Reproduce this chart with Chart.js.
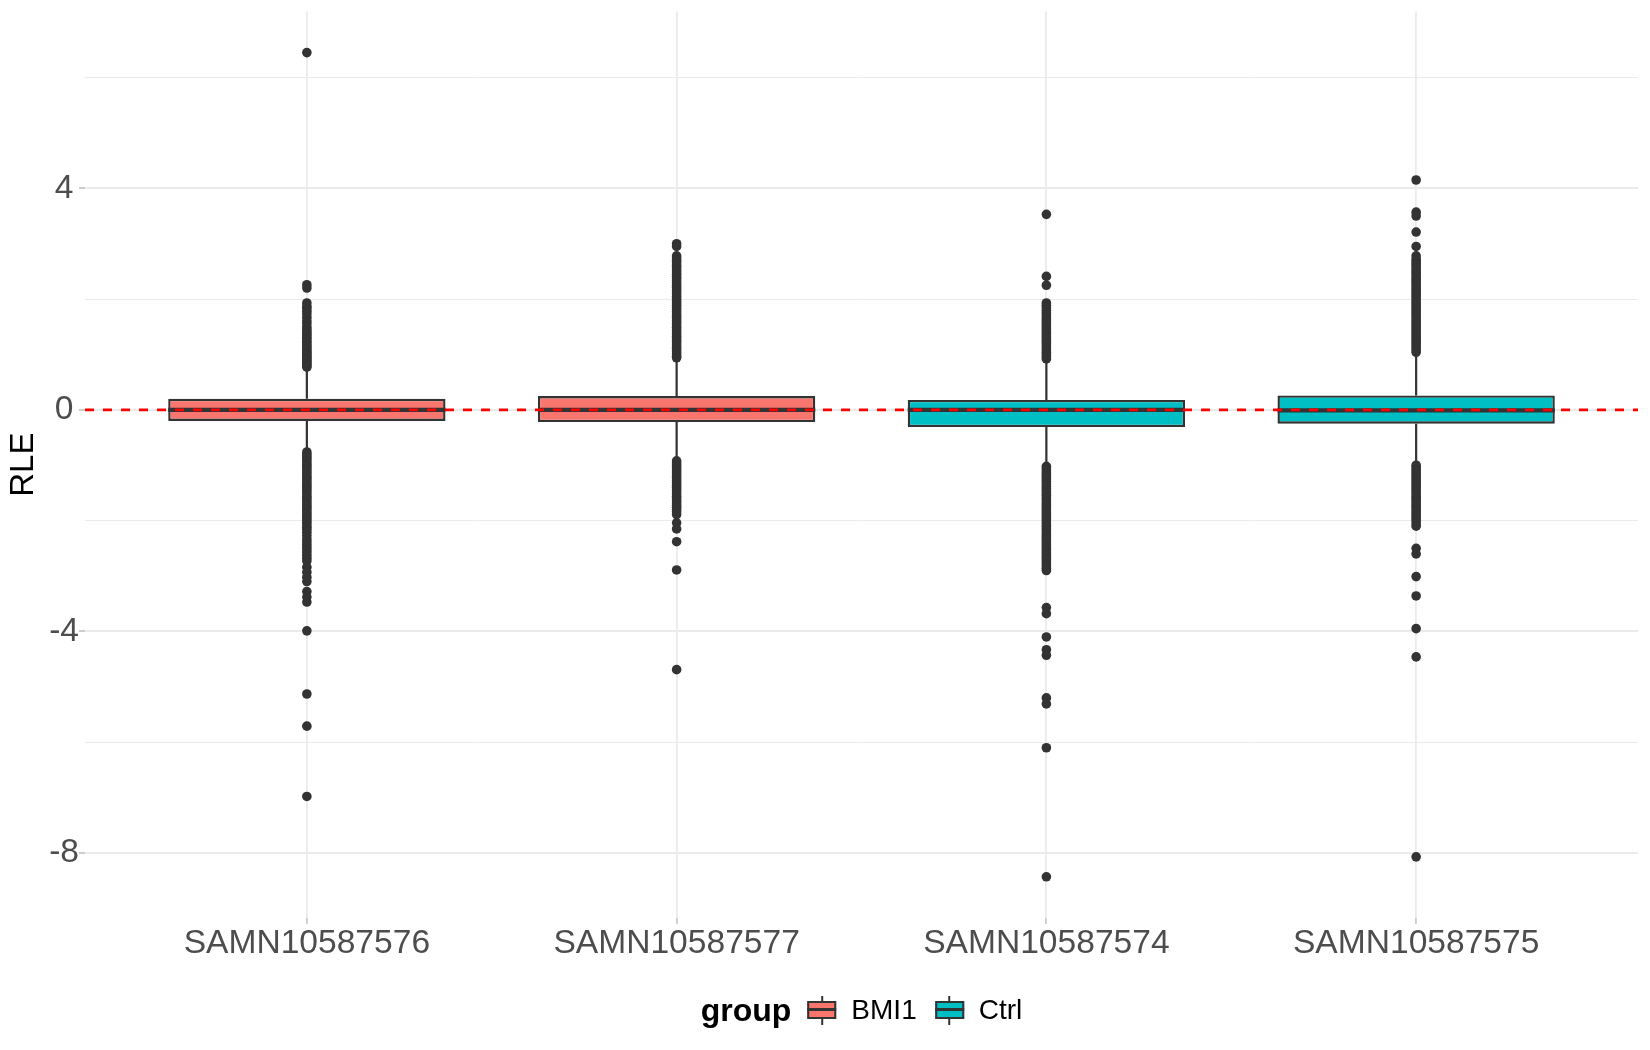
<!DOCTYPE html>
<html><head><meta charset="utf-8">
<script src="https://cdn.jsdelivr.net/npm/chart.js@4.4.0/dist/chart.umd.min.js"></script>
<style>
html,body{margin:0;padding:0;background:#fff;}
#wrap{position:relative;width:1650px;height:1050px;overflow:hidden;}
#c{position:absolute;left:0;top:0;}
#legend{position:absolute;left:861.5px;top:1010px;transform:translate(-50%,-50%);display:flex;align-items:center;font-family:'Liberation Sans',Arial,sans-serif;white-space:nowrap;color:#000;}
#legend .title{font-weight:bold;font-size:32px;line-height:1;}
#legend .lab{font-size:28px;line-height:1;}
.key{position:relative;width:29px;height:29px;}
.key .wh{position:absolute;left:13.5px;top:0;width:2px;height:29px;background:#333;}
.key .bx{position:absolute;left:0;top:5px;width:29px;height:18px;box-sizing:border-box;border:2px solid #333;}
.key .md{position:absolute;left:0;top:12.5px;width:29px;height:3px;background:#333;}
</style></head>
<body><div id="wrap"><canvas id="c" width="1650" height="1050"></canvas><div id="legend"></div></div>
<script>
// ---- data ----
const categories = ['SAMN10587576','SAMN10587577','SAMN10587574','SAMN10587575'];
const groups = ['BMI1','BMI1','Ctrl','Ctrl'];
const groupNames = ['BMI1','Ctrl'];
const groupColors = ['#F8766D','#00BFC4'];
const q1 = [-0.20,-0.22,-0.31,-0.25];
const medians = [0.00,0.00,0.00,-0.01];
const q3 = [0.20,0.25,0.18,0.26];
const whiskerLow = [-0.72,-0.88,-0.98,-0.96];
const whiskerHigh = [0.72,0.92,0.88,1.00];
const outliers576 = [6.45,2.26,2.20,1.93,1.87,1.83,1.78,1.73,1.67,1.61,1.56,1.50,1.46,1.42,1.38,1.35,1.31,1.28,1.24,1.21,1.17,1.14,1.11,1.07,1.04,1.01,0.98,0.95,0.92,0.89,0.86,0.83,0.80,0.77,
  -0.76,-0.80,-0.84,-0.88,-0.92,-0.96,-1.00,-1.04,-1.08,-1.12,-1.16,-1.20,-1.24,-1.28,-1.32,-1.36,-1.40,-1.44,-1.48,-1.52,-1.56,-1.60,-1.64,-1.68,-1.72,-1.76,-1.80,-1.84,-1.88,-1.92,-1.96,-2.00,-2.04,-2.08,-2.12,-2.16,-2.21,-2.27,-2.33,-2.38,-2.43,-2.48,-2.53,-2.58,-2.63,-2.68,-2.73,-2.84,-2.93,-3.02,-3.10,-3.28,-3.38,-3.47,-3.99,-5.13,-5.71,-6.98];
const outliers577 = [3.00,2.95,2.78,2.74,2.70,2.66,2.61,2.57,2.53,2.49,2.45,2.41,2.37,2.33,2.29,2.25,2.21,2.17,2.13,2.09,2.05,2.01,1.97,1.93,1.89,1.85,1.81,1.77,1.73,1.69,1.65,1.61,1.57,1.53,1.49,1.45,1.41,1.37,1.33,1.29,1.25,1.21,1.17,1.13,1.09,1.05,1.01,0.97,0.94,
  -0.92,-0.96,-1.00,-1.04,-1.08,-1.12,-1.16,-1.20,-1.24,-1.28,-1.32,-1.36,-1.40,-1.44,-1.48,-1.52,-1.56,-1.60,-1.64,-1.68,-1.72,-1.76,-1.80,-1.84,-1.89,-2.04,-2.15,-2.38,-2.89,-4.69];
const outliers574 = [3.53,2.41,2.25,1.93,1.89,1.85,1.80,1.76,1.72,1.68,1.64,1.60,1.56,1.52,1.48,1.44,1.40,1.36,1.32,1.28,1.24,1.20,1.16,1.12,1.08,1.04,1.00,0.96,0.92,
  -1.02,-1.06,-1.10,-1.14,-1.18,-1.22,-1.26,-1.30,-1.34,-1.38,-1.42,-1.46,-1.50,-1.54,-1.58,-1.62,-1.66,-1.70,-1.74,-1.78,-1.82,-1.86,-1.90,-1.94,-1.98,-2.02,-2.06,-2.10,-2.14,-2.18,-2.22,-2.26,-2.30,-2.34,-2.38,-2.42,-2.46,-2.50,-2.54,-2.58,-2.62,-2.66,-2.70,-2.74,-2.78,-2.82,-2.86,-2.90,
  -3.57,-3.68,-4.10,-4.33,-4.43,-5.20,-5.31,-6.10,-8.43];
const outliers575 = [4.15,3.57,3.50,3.21,2.95,2.78,2.72,2.68,2.64,2.60,2.56,2.52,2.48,2.44,2.40,2.36,2.32,2.28,2.24,2.20,2.16,2.12,2.08,2.04,2.00,1.96,1.92,1.88,1.84,1.80,1.76,1.72,1.68,1.64,1.60,1.56,1.52,1.48,1.44,1.40,1.36,1.32,1.28,1.24,1.20,1.16,1.12,1.08,1.04,
  -1.00,-1.04,-1.08,-1.12,-1.16,-1.20,-1.24,-1.28,-1.32,-1.36,-1.40,-1.44,-1.48,-1.52,-1.56,-1.60,-1.64,-1.68,-1.72,-1.76,-1.80,-1.84,-1.88,-1.92,-1.96,-2.00,-2.05,-2.10,-2.50,-2.60,-3.01,-3.36,-3.95,-4.46,-8.07];
const outliers = [outliers576, outliers577, outliers574, outliers575];
const yTicks = [-8,-6,-4,-2,0,2,4,6];
const yMajorTicks = [-8,-4,0,4];
const refLineValue = 0;
const yAxisTitle = 'RLE';
const legendTitle = 'group';

// ---- styles ----
const BOX_WIDTH = 0.75;
const DARK = '#333333';
const FONT = "'Liberation Sans', Arial, sans-serif";
Chart.defaults.font.family = FONT;

const n = categories.length;
const xMin = 1 - 0.6, xMax = n + 0.6;
const allVals = [].concat(...outliers, whiskerLow, whiskerHigh);
const dMin = Math.min(...allVals), dMax = Math.max(...allVals);
const yMin = dMin - 0.05 * (dMax - dMin), yMax = dMax + 0.05 * (dMax - dMin);

const boxSets = groupNames.map((g, gi) => ({
  type: 'bar',
  label: g,
  data: categories.map((c, i) => groups[i] === g ? {x: i + 1, y: [q1[i], q3[i]]} : null).filter(d => d),
  backgroundColor: groupColors[gi],
  borderColor: DARK,
  borderWidth: 2.4,
  borderSkipped: false,
  grouped: false,
  barPercentage: BOX_WIDTH,
  categoryPercentage: 1,
  order: 3
}));

const whiskerData = [];
categories.forEach((c, i) => {
  whiskerData.push({x: i + 1, y: q3[i]}, {x: i + 1, y: whiskerHigh[i]}, {x: i + 1, y: null});
  whiskerData.push({x: i + 1, y: q1[i]}, {x: i + 1, y: whiskerLow[i]}, {x: i + 1, y: null});
});
const medianData = [];
categories.forEach((c, i) => {
  medianData.push({x: i + 1 - BOX_WIDTH / 2, y: medians[i]}, {x: i + 1 + BOX_WIDTH / 2, y: medians[i]}, {x: i + 1, y: null});
});
const outlierData = [];
outliers.forEach((arr, i) => arr.forEach(v => outlierData.push({x: i + 1, y: v})));

const datasets = [
  {type: 'scatter', label: 'ref', data: [{x: xMin, y: refLineValue}, {x: xMax, y: refLineValue}], showLine: true,
   borderColor: '#FF0000', borderWidth: 2.6, borderDash: [9, 9], pointRadius: 0, order: 0},
  {type: 'scatter', label: 'median', data: medianData, showLine: true, spanGaps: false,
   borderColor: DARK, borderWidth: 4.4, pointRadius: 0, order: 1},
  ...boxSets,
  {type: 'scatter', label: 'whisker', data: whiskerData, showLine: true, spanGaps: false,
   borderColor: DARK, borderWidth: 2.2, pointRadius: 0, order: 4},
  {type: 'scatter', label: 'outliers', data: outlierData, showLine: false,
   backgroundColor: DARK, borderWidth: 0, pointRadius: 4.8, order: 5}
];

function noPad(s) { s.paddingTop = 0; s.paddingBottom = 0; s.paddingLeft = 0; s.paddingRight = 0; }

new Chart(document.getElementById('c'), {
  type: 'scatter',
  data: {datasets},
  options: {
    responsive: false,
    animation: false,
    events: [],
    devicePixelRatio: 1,
    layout: {padding: {top: 11.4, right: 12, left: 0, bottom: 0}},
    plugins: {legend: {display: false}, tooltip: {enabled: false}},
    scales: {
      x: {
        type: 'linear', min: xMin, max: xMax, offset: false,
        afterBuildTicks: s => { s.ticks = categories.map((c, i) => ({value: i + 1})); },
        afterFit: s => { s.height = 132; noPad(s); },
        ticks: {callback: v => categories[Math.round(v) - 1] || '', font: {size: 33.6}, color: '#4D4D4D', padding: 0, maxRotation: 0, autoSkip: false},
        grid: {offset: false, color: '#EBEBEB', lineWidth: 1.8, tickLength: 6, tickColor: '#CCCCCC', tickWidth: 1.8},
        border: {display: false}
      },
      y: {
        type: 'linear', min: yMin, max: yMax, offset: false,
        afterBuildTicks: s => { s.ticks = yTicks.map(v => ({value: v})); },
        afterFit: s => { s.width = 85; noPad(s); },
        ticks: {callback: v => yMajorTicks.includes(v) ? String(v) : '', font: {size: 33.6}, color: '#4D4D4D', padding: 0, crossAlign: 'center', autoSkip: false},
        grid: {
          color: '#EBEBEB',
          lineWidth: ctx => yMajorTicks.includes(ctx.tick.value) ? 2 : 1,
          tickLength: 6,
          tickColor: ctx => yMajorTicks.includes(ctx.tick.value) ? '#CCCCCC' : 'rgba(0,0,0,0)',
          tickWidth: 2
        },
        border: {display: false},
        title: {display: true, text: yAxisTitle, font: {size: 33}, color: '#000', padding: {top: 4, bottom: 0}}
      }
    }
  }
});

// ---- legend (HTML) ----
const leg = document.getElementById('legend');
const t = document.createElement('span'); t.className = 'title'; t.textContent = legendTitle; leg.appendChild(t);
groupNames.forEach((g, gi) => {
  const k = document.createElement('div'); k.className = 'key';
  k.style.marginLeft = gi === 0 ? '16px' : '18px';
  k.innerHTML = '<div class="wh"></div><div class="bx" style="background:' + groupColors[gi] + '"></div><div class="md"></div>';
  leg.appendChild(k);
  const l = document.createElement('span'); l.className = 'lab'; l.textContent = g; l.style.marginLeft = '15px';
  leg.appendChild(l);
});
</script>
</body></html>
